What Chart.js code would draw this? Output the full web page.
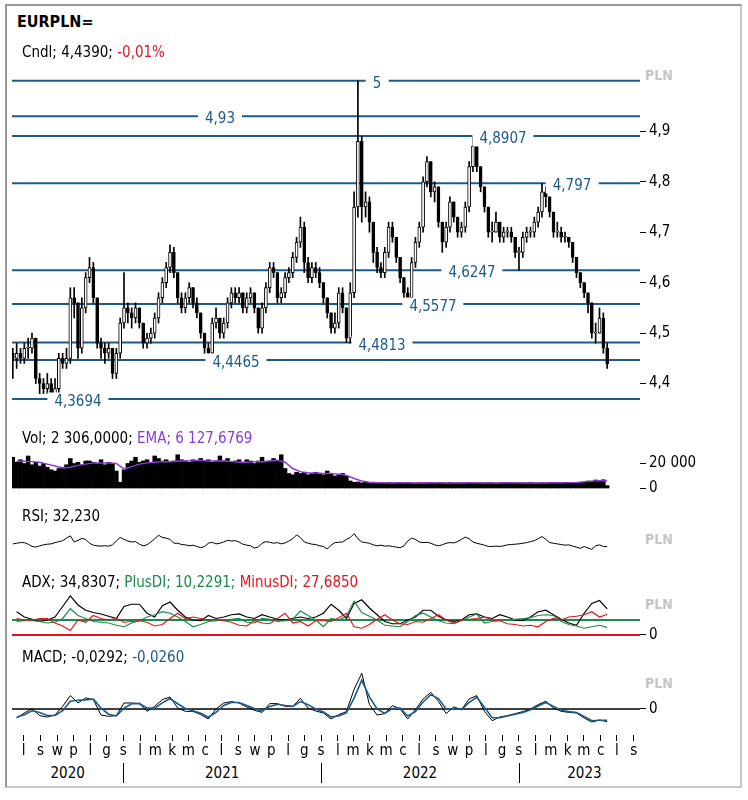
<!DOCTYPE html>
<html>
<head>
<meta charset="utf-8">
<script src="https://cdn.jsdelivr.net/npm/chart.js@4.4.0/dist/chart.umd.min.js"></script>
<style>
  body { margin: 0; background: #fff; }
  #wrap { position: relative; width: 748px; height: 800px; overflow: hidden;
          font-family: "DejaVu Sans Condensed", "DejaVu Sans", sans-serif; }
  #frame { position: absolute; left: 5px; top: 4px; width: 733px; height: 780px;
           border: 2px solid #c8c8c8; border-left-color: #999; border-top-color: #999; }
  canvas { position: absolute; left: 0; }
  .t { position: absolute; left: 22px; font-size: 15px; line-height: 18px; white-space: nowrap; color: #000; }
  .pln { position: absolute; left: 645px; font-size: 14px; font-weight: bold; color: #c4c4c4; line-height: 16px; }
  .lvl { position: absolute; font-size: 15px; line-height: 17px; color: #1d5a8c; background: #fff;
         padding: 0 7px; transform: translate(-50%, -50%); white-space: nowrap; }
  .yr { position: absolute; top: 764px; font-size: 15px; line-height: 18px; transform: translateX(-50%); }
  .sep { position: absolute; top: 763px; width: 1px; height: 20px; background: #000; }
</style>
</head>
<body>
<div id="wrap">
  <div id="frame"></div>
  <div class="t" style="left:17px;top:13px;font-weight:bold;font-size:16px;">EURPLN=</div>
  <div class="t" style="top:43px;">Cndl; 4,4390; <span style="color:#e3141e">-0,01%</span></div>
  <div class="t" style="top:429px;">Vol; 2 306,0000; <span style="color:#8b3ad8">EMA; 6 127,6769</span></div>
  <div class="t" style="top:507px;">RSI; 32,230</div>
  <div class="t" style="top:573px;">ADX; 34,8307; <span style="color:#1c8a4c">PlusDI; 10,2291; </span><span style="color:#e3141e">MinusDI; 27,6850</span></div>
  <div class="t" style="top:648px;">MACD; -0,0292; <span style="color:#1d5a8c">-0,0260</span></div>
  <div class="pln" style="top:67px;">PLN</div>
  <div class="pln" style="top:531px;">PLN</div>
  <div class="pln" style="top:596px;">PLN</div>
  <div class="pln" style="top:675px;">PLN</div>
</div>
<script>
// weekly candles, June 2020 - June 2023
const firstDate = '2020-06-11';
const lastDate = '2023-06-13';
const firstOpen = 4.46;

const closes = [
  4.45, 4.46, 4.45, 4.47, 4.47, 4.49, 4.41, 4.40, 4.39, 4.40,
  4.38, 4.39, 4.45, 4.44, 4.45, 4.57, 4.56, 4.47, 4.55, 4.61,
  4.63, 4.57, 4.48, 4.47, 4.46, 4.47, 4.42, 4.46, 4.52, 4.55,
  4.54, 4.53, 4.55, 4.52, 4.48, 4.49, 4.50, 4.53, 4.57, 4.60,
  4.63, 4.66, 4.62, 4.57, 4.55, 4.57, 4.59, 4.56, 4.54, 4.50,
  4.47, 4.46, 4.52, 4.53, 4.50, 4.52, 4.56, 4.58, 4.57, 4.58,
  4.55, 4.57, 4.58, 4.55, 4.51, 4.55, 4.59, 4.63, 4.62, 4.57,
  4.58, 4.61, 4.62, 4.65, 4.68, 4.71, 4.64, 4.61, 4.63, 4.62,
  4.60, 4.57, 4.54, 4.51, 4.52, 4.58, 4.55, 4.49, 4.58, 4.75,
  4.88, 4.75, 4.76, 4.72, 4.66, 4.63, 4.62, 4.66, 4.71, 4.69,
  4.65, 4.61, 4.58, 4.57, 4.64, 4.68, 4.71, 4.80, 4.84, 4.78,
  4.79, 4.72, 4.68, 4.71, 4.76, 4.73, 4.70, 4.71, 4.75, 4.83,
  4.87, 4.83, 4.79, 4.75, 4.70, 4.70, 4.72, 4.69, 4.70, 4.70,
  4.69, 4.66, 4.66, 4.69, 4.70, 4.70, 4.72, 4.74, 4.78, 4.77,
  4.74, 4.70, 4.70, 4.69, 4.69, 4.68, 4.65, 4.62, 4.60, 4.58,
  4.56, 4.50, 4.50, 4.53, 4.47, 4.439
];
const highs = [
  4.47, 4.48, 4.47, 4.48, 4.49, 4.50, 4.49, 4.42, 4.41, 4.42,
  4.41, 4.41, 4.46, 4.46, 4.47, 4.59, 4.59, 4.56, 4.57, 4.62,
  4.65, 4.64, 4.57, 4.49, 4.48, 4.48, 4.47, 4.47, 4.53, 4.62,
  4.56, 4.55, 4.56, 4.55, 4.52, 4.50, 4.51, 4.54, 4.58, 4.61,
  4.64, 4.675, 4.67, 4.62, 4.58, 4.58, 4.60, 4.59, 4.57, 4.54,
  4.50, 4.48, 4.53, 4.55, 4.53, 4.53, 4.57, 4.59, 4.59, 4.59,
  4.58, 4.58, 4.59, 4.58, 4.55, 4.56, 4.60, 4.64, 4.64, 4.62,
  4.59, 4.62, 4.63, 4.66, 4.69, 4.73, 4.72, 4.65, 4.64, 4.64,
  4.63, 4.60, 4.57, 4.54, 4.54, 4.59, 4.59, 4.55, 4.60, 4.78,
  5.00, 4.89, 4.78, 4.77, 4.72, 4.67, 4.64, 4.67, 4.72, 4.72,
  4.69, 4.65, 4.61, 4.59, 4.65, 4.69, 4.72, 4.81, 4.85, 4.84,
  4.80, 4.79, 4.72, 4.72, 4.77, 4.76, 4.73, 4.72, 4.76, 4.84,
  4.8907, 4.88, 4.83, 4.79, 4.75, 4.72, 4.74, 4.72, 4.71, 4.71,
  4.71, 4.69, 4.67, 4.70, 4.71, 4.71, 4.73, 4.75, 4.797, 4.79,
  4.77, 4.74, 4.72, 4.71, 4.70, 4.69, 4.68, 4.65, 4.62, 4.60,
  4.58, 4.56, 4.52, 4.55, 4.54, 4.48
];
const lows = [
  4.41, 4.43, 4.44, 4.44, 4.45, 4.46, 4.40, 4.38, 4.38, 4.38,
  4.3694, 4.37, 4.38, 4.43, 4.43, 4.44, 4.53, 4.45, 4.46, 4.54,
  4.60, 4.56, 4.47, 4.45, 4.44, 4.45, 4.41, 4.41, 4.45, 4.51,
  4.52, 4.51, 4.52, 4.51, 4.47, 4.47, 4.48, 4.49, 4.52, 4.56,
  4.59, 4.62, 4.61, 4.56, 4.54, 4.54, 4.56, 4.55, 4.53, 4.49,
  4.46, 4.4465, 4.45, 4.51, 4.49, 4.49, 4.51, 4.55, 4.56, 4.56,
  4.54, 4.54, 4.56, 4.54, 4.50, 4.50, 4.54, 4.58, 4.61, 4.56,
  4.56, 4.57, 4.60, 4.61, 4.64, 4.67, 4.62, 4.60, 4.60, 4.61,
  4.59, 4.56, 4.53, 4.50, 4.50, 4.51, 4.54, 4.4813, 4.48, 4.57,
  4.73, 4.72, 4.73, 4.70, 4.64, 4.62, 4.61, 4.61, 4.65, 4.68,
  4.64, 4.60, 4.57, 4.5577, 4.56, 4.63, 4.67, 4.70, 4.79, 4.77,
  4.76, 4.71, 4.66, 4.67, 4.70, 4.72, 4.69, 4.69, 4.70, 4.74,
  4.82, 4.82, 4.78, 4.74, 4.69, 4.68, 4.70, 4.68, 4.68, 4.69,
  4.68, 4.65, 4.6247, 4.65, 4.68, 4.69, 4.69, 4.71, 4.73, 4.75,
  4.73, 4.69, 4.69, 4.68, 4.68, 4.67, 4.64, 4.61, 4.59, 4.57,
  4.54, 4.49, 4.48, 4.50, 4.46, 4.43
];
const volumes = [
  25000, 21000, 23000, 20000, 26000, 19000, 21000, 18000, 20000, 17000,
  15000, 14000, 16000, 17000, 19000, 24000, 20000, 21000, 19000, 22000,
  22000, 21000, 20000, 23000, 19000, 21000, 20000, 14000, 5000, 15000,
  20000, 22000, 25000, 21000, 22000, 23000, 21000, 26000, 24000, 22000,
  23000, 21000, 22000, 27000, 23000, 22000, 21000, 23000, 22000, 24000,
  22000, 23000, 21000, 22000, 26000, 22000, 24000, 21000, 22000, 23000,
  21000, 23000, 22000, 20000, 22000, 25000, 21000, 22000, 24000, 22000,
  27000, 16000, 12000, 11000, 13000, 12000, 13000, 11000, 12000, 13000,
  12000, 11000, 14000, 12000, 10000, 11000, 12000, 10000, 6000, 5000,
  5200, 4500, 5000, 4200, 4800, 4400, 4600, 4300, 4700, 4500,
  4400, 4600, 4200, 4800, 4500, 4300, 4700, 4400, 4600, 4500,
  4200, 4700, 4500, 4400, 4800, 4300, 4600, 4500, 4400, 4700,
  4500, 4300, 4600, 4400, 4700, 4500, 4200, 4600, 4500, 4400,
  4600, 4300, 4700, 4500, 4400, 4800, 4500, 4300, 4600, 4500,
  4700, 4400, 4500, 4600, 4300, 4800, 4500, 4600, 5000, 5400,
  6000, 5800, 6800, 6200, 7000, 2306
];
// weekly RSI
const rsiValues = [
  41, 43, 45, 45, 40, 33, 31, 35, 38, 40,
  41, 45, 48, 51, 59, 66, 47, 52, 58, 55,
  43, 37, 35, 34, 35, 34, 38, 50, 61, 55,
  50, 47, 48, 40, 35, 38, 47, 57, 68, 61,
  59, 55, 43, 43, 39, 38, 35, 37, 33, 29,
  33, 43, 46, 41, 43, 47, 52, 50, 51, 47,
  40, 37, 35, 28, 31, 43, 48, 46, 43, 45,
  41, 44, 50, 57, 69, 61, 47, 43, 40, 39,
  35, 33, 25, 37, 45, 46, 47, 55, 61, 73,
  57, 47, 45, 43, 38, 35, 37, 34, 35, 33,
  31, 29, 35, 50, 59, 55, 47, 45, 46, 43,
  38, 35, 38, 43, 45, 44, 48, 55, 62, 57,
  47, 43, 40, 37, 33, 33, 34, 33, 35, 38,
  39, 40, 41, 43, 45, 48, 51, 57, 64, 55,
  45, 43, 41, 39, 37, 38, 34, 31, 27, 33,
  28, 24, 35, 38, 33, 32.23
];

// indicators, one reading every second week
const volumeEma = [
  21800, 21800, 21500, 21000, 19500, 18000, 16500, 17000, 18500, 19500,
  20500, 20500, 20500, 20000, 15500, 17500, 19500, 20500, 21000, 21500,
  21500, 22000, 22000, 22500, 22500, 22000, 22000, 22000, 21500, 21000,
  21000, 21500, 21500, 22000, 22500, 21000, 16000, 13500, 12500, 12500,
  12000, 12000, 11500, 10500, 8000, 6000, 5000, 4600, 4500, 4500,
  4600, 4500, 4500, 4500, 4600, 4500, 4500, 4500, 4500, 4600,
  4500, 4500, 4500, 4500, 4600, 4500, 4500, 4500, 4500, 4500,
  4600, 4600, 4700, 4800, 5300, 5900, 6200, 6128
];
const adxValues = [
  31, 24, 21, 18, 20, 24, 38, 52, 40, 33,
  30, 28, 25, 22, 38, 41, 41, 29, 24, 39,
  44, 33, 24, 20, 19, 26, 22, 24, 27, 28,
  24, 22, 27, 24, 21, 20, 22, 24, 22, 24,
  29, 41, 33, 22, 42, 47, 36, 27, 18, 15,
  15, 20, 24, 33, 33, 25, 20, 18, 20, 27,
  28, 24, 22, 27, 24, 20, 19, 24, 31, 33,
  27, 21, 16, 13, 29, 42, 46, 34.83
];
const plusDI = [
  18, 19, 19, 18, 16, 17, 22, 35, 26, 22,
  18, 17, 16, 13, 11, 16, 19, 24, 27, 31,
  29, 24, 18, 11, 14, 18, 19, 20, 21, 22,
  17, 16, 22, 21, 18, 19, 21, 32, 26, 20,
  11, 22, 20, 25, 45, 30, 25, 20, 13, 12,
  11, 18, 26, 29, 24, 19, 16, 15, 19, 24,
  28, 16, 18, 19, 20, 21, 22, 23, 26, 27,
  26, 18, 14, 12, 9, 11, 13, 10.23
];
const minusDI = [
  22, 20, 20, 22, 22, 16, 12, 6, 20, 17,
  26, 22, 20, 22, 17, 18, 19, 17, 12, 14,
  22, 29, 22, 24, 22, 20, 21, 19, 17, 13,
  12, 19, 16, 15, 22, 29, 16, 18, 12, 19,
  19, 18, 23, 29, 11, 9, 14, 21, 27, 20,
  15, 14, 18, 17, 22, 27, 20, 16, 20, 21,
  22, 24, 20, 19, 15, 14, 12, 13, 11, 18,
  22, 20, 24, 25, 27, 31, 24, 27.69
];
const macdValues = [
  -0.0207, -0.0092, 0.0008, -0.0153, -0.0184, -0.0138, 0.0061, 0.0307, 0.0138, 0.0253,
  0.0215, -0.0138, -0.0169, -0.0153, 0.0138, 0.0138, 0.0123, -0.0054, 0.0061, 0.0215,
  0.0276, 0.0023, -0.0054, -0.0054, -0.0130, -0.0230, 0.0, 0.0138, 0.0169, 0.0138,
  0.0046, -0.0031, -0.0077, 0.0123, 0.0123, 0.0061, 0.0061, 0.0245, 0.0023, -0.0046,
  -0.0092, -0.0230, -0.0130, -0.0061, 0.045, 0.082, 0.0100, -0.0138, -0.0107, 0.0077,
  0.0, -0.0230, -0.0015, 0.0230, 0.0383, 0.0176, -0.0107, 0.0046, -0.0015, 0.0230,
  0.0307, -0.0054, -0.0268, -0.0184, -0.0153, -0.0107, -0.0061, 0.0, 0.0100, 0.0176,
  0.0023, -0.0054, -0.0077, -0.0092, -0.0207, -0.0299, -0.0253, -0.0292
];
const macdSignal = [
  -0.019, -0.013, -0.004, -0.008, -0.015, -0.015, -0.004, 0.018, 0.020, 0.021,
  0.023, 0.002, -0.012, -0.016, 0.002, 0.012, 0.013, 0.002, 0.002, 0.014,
  0.024, 0.012, 0.001, -0.004, -0.010, -0.019, -0.008, 0.008, 0.015, 0.015,
  0.008, 0.001, -0.005, 0.006, 0.011, 0.008, 0.006, 0.017, 0.010, 0.000,
  -0.007, -0.018, -0.016, -0.009, 0.025, 0.066, 0.028, 0.000, -0.010, 0.001,
  0.002, -0.016, -0.006, 0.016, 0.033, 0.024, 0.000, 0.001, -0.001, 0.015,
  0.027, 0.004, -0.020, -0.020, -0.016, -0.012, -0.008, -0.002, 0.007, 0.015,
  0.006, -0.003, -0.006, -0.008, -0.017, -0.027, -0.026, -0.026
];

const levels = [5, 4.93, 4.8907, 4.797, 4.6247, 4.5577, 4.4813, 4.4465, 4.3694];
const levelText = ['5', '4,93', '4,8907', '4,797', '4,6247', '4,5577', '4,4813', '4,4465', '4,3694'];
const priceTicks = [4.4, 4.5, 4.6, 4.7, 4.8, 4.9];
const volumeTicks = [0, 20000];
const adxGuide = 20;
const monthLetters = ['s', 'l', 'm', 'k', 'm', 'c', 'l', 's', 'w', 'p', 'l', 'g'];
const years = [2020, 2021, 2022, 2023];

// layout
const levelLabelX = [377, 220, 503, 572, 472, 433, 382, 236, 78];
const BLUE = '#1d5a8c';
const RED = '#e3141e';
const GREEN = '#1c8a4c';
const PURPLE = '#8b3ad8';
const FONT = '"DejaVu Sans Condensed", "DejaVu Sans", sans-serif';

Chart.defaults.font.family = FONT;
Chart.defaults.font.size = 15;
Chart.defaults.color = '#000';
Chart.defaults.animation = false;

const DAY = 86400000;
const t0 = Date.parse(firstDate);
const stepDays = (Date.parse(lastDate) - t0) / DAY / (closes.length - 1);
const dayOf = i => i * stepDays;
const monthDay = (y, m) => (Date.UTC(y, m, 1) - t0) / DAY;
const PX_PER_DAY = 0.5418;
const X_MIN = -1.5;
const X_MAX = X_MIN + 628 / PX_PER_DAY;

const monthTicks = [];
for (let y = 2020, m = 6; y < 2023 || m <= 7; ) {
  monthTicks.push({ day: monthDay(y, m), letter: monthLetters[m] });
  m++;
  if (m > 11) { m = 0; y++; }
}

const wrap = document.getElementById('wrap');

function makeCanvas(top, height) {
  const c = document.createElement('canvas');
  c.width = 748; c.height = height;
  c.style.top = top + 'px';
  c.style.width = '748px'; c.style.height = height + 'px';
  wrap.insertBefore(c, wrap.children[1]);
  return c;
}

function xAxis(show) {
  return {
    type: 'linear', min: X_MIN, max: X_MAX, offset: false, display: show,
    grid: { offset: false, drawOnChartArea: false, tickLength: 6, color: '#000' },
    border: { display: false },
    afterBuildTicks: s => { s.ticks = monthTicks.map(t => ({ value: t.day })); },
    afterFit: s => { s.height = show ? 25 : 0; },
    ticks: {
      autoSkip: false, maxRotation: 0, padding: 1, color: '#000',
      callback: (v, i) => (monthTicks[i] ? monthTicks[i].letter : '')
    }
  };
}

function yAxis(min, max, ticks, fmt) {
  return {
    position: 'right', min: min, max: max, beginAtZero: false,
    grid: { drawOnChartArea: false, tickLength: 6, color: '#000' },
    border: { display: false },
    afterBuildTicks: s => { s.ticks = ticks.map(v => ({ value: v })); },
    afterFit: s => { s.width = 108; },
    ticks: { padding: 3, color: '#000', autoSkip: false, callback: fmt }
  };
}

function hLine(v, color, width, order) {
  return {
    type: 'line', data: [{ x: X_MIN, y: v }, { x: X_MAX, y: v }],
    borderColor: color, borderWidth: width, pointRadius: 0, order: order
  };
}

// every = 1 for weekly series, 2 for the fortnightly indicator readings
function series(values, color, width, every) {
  const step = every || 2;
  return {
    type: 'line',
    data: values.map((v, j) => ({ x: dayOf(step === 1 ? j : 2 * j + 1), y: v })),
    borderColor: color, borderWidth: width, pointRadius: 0, tension: 0, order: 1
  };
}

const baseOptions = (scales, padRight) => ({
  responsive: false,
  animation: false,
  layout: { padding: { left: 12, right: padRight, top: 12, bottom: 12 } },
  plugins: { legend: { display: false }, tooltip: { enabled: false } },
  scales: scales
});

const comma = (v, d) => v.toFixed(d).replace('.', ',');

// price panel
const opens = closes.map((c, i) => (i === 0 ? firstOpen : closes[i - 1]));
const priceCanvas = makeCanvas(56, 374);
const priceChart = new Chart(priceCanvas, {
  type: 'bar',
  data: {
    datasets: [
      ...levels.map(v => hLine(v, BLUE, 2, 3)),
      {
        type: 'bar', grouped: false, order: 2, barThickness: 1,
        backgroundColor: '#000',
        data: closes.map((c, i) => ({ x: dayOf(i), y: [lows[i], highs[i]] }))
      },
      {
        type: 'bar', grouped: false, order: 1, barThickness: 3, minBarLength: 1,
        borderColor: '#000', borderWidth: 1, borderSkipped: false,
        backgroundColor: closes.map((c, i) => (c >= opens[i] ? '#fff' : '#000')),
        data: closes.map((c, i) => ({ x: dayOf(i), y: [opens[i], c] }))
      }
    ]
  },
  options: baseOptions({
    x: xAxis(false),
    y: yAxis(4.3317, 5.0255, priceTicks, v => comma(v, 1))
  }, 0)
});

levels.forEach((v, k) => {
  const d = document.createElement('div');
  d.className = 'lvl';
  d.textContent = levelText[k];
  d.style.left = levelLabelX[k] + 'px';
  d.style.top = (56 + priceChart.scales.y.getPixelForValue(v) + 2) + 'px';
  wrap.appendChild(d);
});

// volume panel
new Chart(makeCanvas(437, 65), {
  type: 'bar',
  data: {
    datasets: [
      series(volumeEma, PURPLE, 1.5),
      {
        type: 'bar', grouped: false, order: 2, backgroundColor: '#000',
        barPercentage: 1, categoryPercentage: 1,
        data: volumes.map((v, i) => ({ x: dayOf(i), y: v }))
      }
    ]
  },
  options: baseOptions({
    x: xAxis(false),
    y: yAxis(-1200, 31600, volumeTicks, v => String(v).replace(/\B(?=(\d{3})+(?!\d))/g, ' '))
  }, 0)
});

// RSI panel
new Chart(makeCanvas(513, 56), {
  type: 'line',
  data: { datasets: [series(rsiValues, '#000', 1, 1)] },
  options: baseOptions({
    x: xAxis(false),
    y: { display: false, min: 0, max: 100 }
  }, 108)
});

// ADX panel
new Chart(makeCanvas(580, 69), {
  type: 'line',
  data: {
    datasets: [
      hLine(adxGuide, GREEN, 2, 3),
      hLine(0, RED, 2, 3),
      series(minusDI, RED, 1.2),
      series(plusDI, GREEN, 1.2),
      series(adxValues, '#000', 1.2)
    ]
  },
  options: baseOptions({
    x: xAxis(false),
    y: yAxis(-2.67, 57.3, [0], v => String(v))
  }, 0)
});

// MACD panel + time axis
const macdChart = new Chart(makeCanvas(652, 108), {
  type: 'line',
  data: {
    datasets: [
      hLine(0, '#000', 1.5, 3),
      series(macdSignal, BLUE, 1.6),
      series(macdValues, '#000', 1)
    ]
  },
  options: {
    ...baseOptions({
      x: xAxis(true),
      y: yAxis(-0.0598, 0.1034, [0], v => String(v))
    }, 0),
    layout: { padding: { left: 12, right: 0, top: 12, bottom: 0 } }
  }
});

// year row
const xs = macdChart.scales.x;
years.forEach(y => {
  const a = Math.max(12, xs.getPixelForValue(monthDay(y, 0)));
  const b = Math.min(650, xs.getPixelForValue(monthDay(y + 1, 0)));
  const d = document.createElement('div');
  d.className = 'yr';
  d.textContent = y;
  d.style.left = ((a + b) / 2) + 'px';
  wrap.appendChild(d);
  if (y > years[0]) {
    const s = document.createElement('div');
    s.className = 'sep';
    s.style.left = Math.round(xs.getPixelForValue(monthDay(y, 0))) + 'px';
    wrap.appendChild(s);
  }
});
</script>
</body>
</html>
